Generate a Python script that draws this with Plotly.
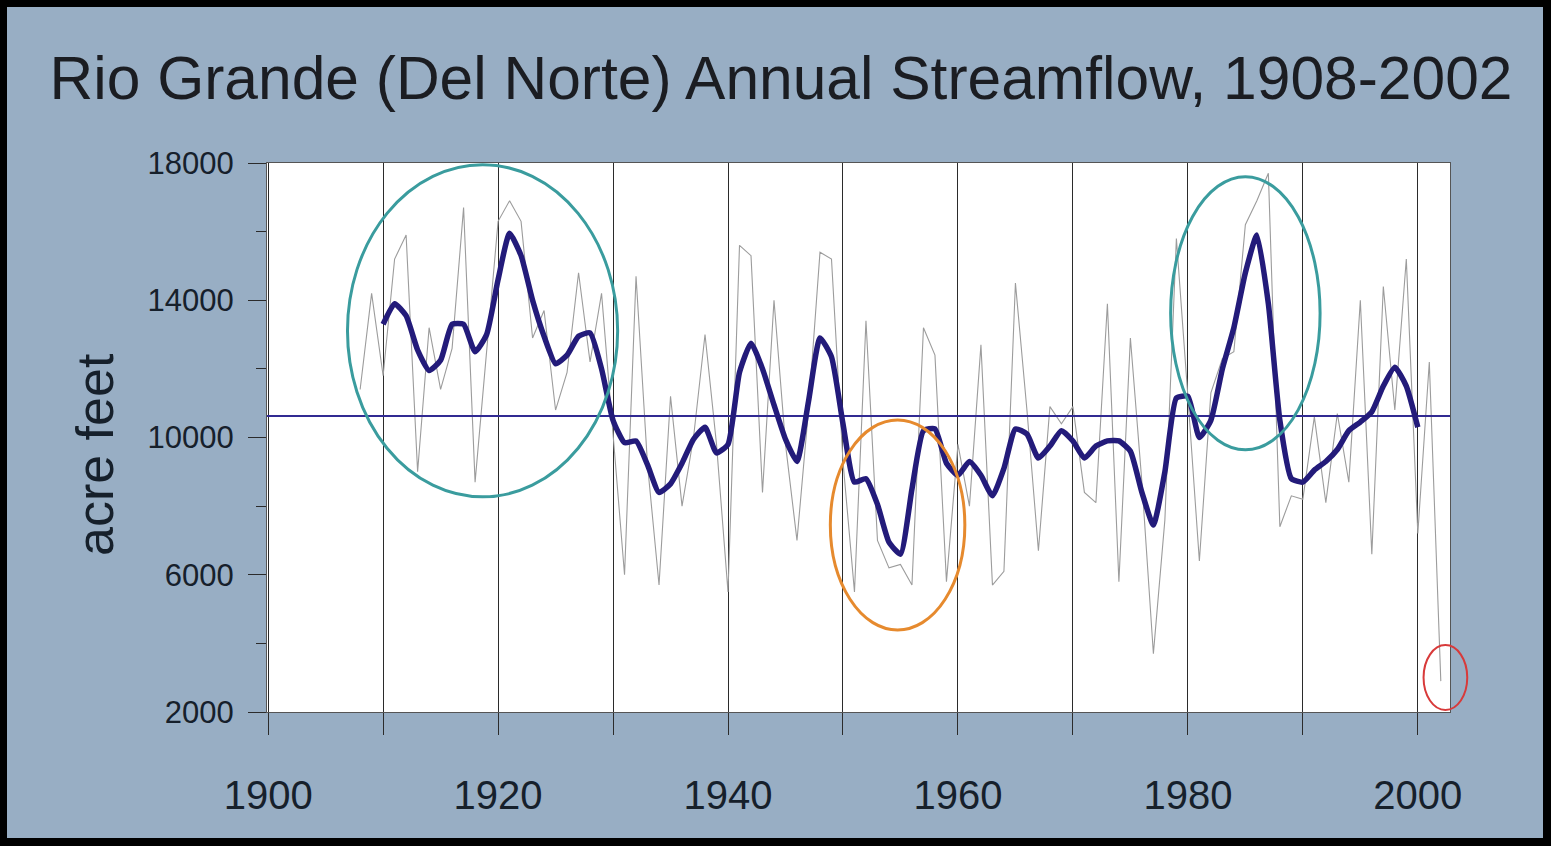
import plotly.graph_objects as go

# ---------------- data ----------------
annual_years = list(range(1908, 2003))
annual_flow = [
    11400, 14200, 11800, 15200, 15900, 9000, 13200, 11400, 12600, 16700,   # 1908-1917
    8700, 12500, 16300, 16900, 16300, 12900, 13700, 10800, 11900, 14800,   # 1918-1927
    12200, 14200, 10000, 6000, 14700, 9200, 5700, 11200, 8000, 10000,      # 1928-1937
    13000, 9800, 5500, 15600, 15300, 8400, 14000, 9800, 7000, 10800,       # 1938-1947
    15400, 15200, 9300, 5500, 13400, 7000, 6200, 6300, 5700, 13200,        # 1948-1957
    12400, 5800, 9800, 8000, 12700, 5700, 6100, 14500, 10800, 6700,        # 1958-1967
    10900, 10400, 10900, 8400, 8100, 13900, 5800, 12900, 8700, 3700,       # 1968-1977
    7600, 15800, 11200, 6400, 11300, 12300, 12500, 16200, 16900, 17700,    # 1978-1987
    7400, 8300, 8200, 10600, 8100, 10700, 8700, 14000, 6600, 14400,        # 1988-1997
    10800, 15200, 7200, 12200, 2900,                                       # 1998-2002
]

smooth_years = list(range(1910, 2001))
smooth_flow = [
    13300, 13900, 13550, 12550, 11950, 12250, 13300, 13300, 12500, 13000,  # 1910-1919
    14600, 15950, 15300, 14000, 12950, 12150, 12400, 12950, 13050, 12000,  # 1920-1929
    10500, 9850, 9900, 9200, 8400, 8650, 9250, 9950, 10300, 9550,          # 1930-1939
    9800, 11900, 12750, 12000, 10950, 9950, 9300, 11050, 12900, 12350,     # 1940-1949
    10400, 8700, 8800, 8050, 6950, 6600, 8500, 10200, 10250, 9250,         # 1950-1959
    8900, 9300, 8900, 8300, 9100, 10250, 10100, 9400, 9750, 10200,         # 1960-1969
    9900, 9400, 9750, 9900, 9900, 9600, 8400, 7450, 9000, 11150,           # 1970-1979
    11200, 10000, 10500, 12000, 13200, 14800, 15900, 13900, 10500, 8800,   # 1980-1989
    8700, 9050, 9300, 9650, 10200, 10450, 10750, 11500, 12050, 11500,      # 1990-1999
    10300,                                                                 # 2000
]

mean_flow = 10630

x_tick_values = list(range(1900, 2001, 10))
x_tick_labels = ["1900", "", "1920", "", "1940", "", "1960", "", "1980", "", "2000"]
y_tick_values = [2000, 6000, 10000, 14000, 18000]
y_tick_labels = ["2000", "6000", "10000", "14000", "18000"]

title_text = "Rio Grande (Del Norte) Annual Streamflow, 1908-2002"
y_title = "acre feet"

# ---------------- layout geometry ----------------
W, H = 1551, 846
ML, MR, MT, MB = 267, 101, 163, 134
X_RANGE = [1899.9, 2002.8]
Y_RANGE = [2000, 18000]
PW, PH = W - ML - MR, H - MT - MB


def px_x(px):
    return (px - ML) / PW


def px_y(py):
    return (H - MB - py) / PH


def yr_to_paper(yr):
    return (yr - X_RANGE[0]) / (X_RANGE[1] - X_RANGE[0])


def val_to_paper(v):
    return (v - Y_RANGE[0]) / (Y_RANGE[1] - Y_RANGE[0])


BG = "#98aec4"
REG = "Liberation Sans, Arial, sans-serif"
TXT = "#16202b"

fig = go.Figure()

fig.add_trace(go.Scatter(
    x=annual_years, y=annual_flow, mode="lines",
    line=dict(color="#9c9c9c", width=1.1), hoverinfo="skip", showlegend=False,
))
fig.add_trace(go.Scatter(
    x=X_RANGE, y=[mean_flow, mean_flow], mode="lines",
    line=dict(color="#312a92", width=2), hoverinfo="skip", showlegend=False,
))
fig.add_trace(go.Scatter(
    x=smooth_years, y=smooth_flow, mode="lines",
    line=dict(color="#231b7a", width=5.5, shape="spline", smoothing=0.5),
    hoverinfo="skip", showlegend=False,
))

shapes = []
# highlight ellipses
shapes.append(dict(type="circle", xref="x", yref="y", x0=1906.9, x1=1930.4, y0=8270, y1=17950,
                   line=dict(color="#3a9c9e", width=3)))
shapes.append(dict(type="circle", xref="x", yref="y", x0=1978.5, x1=1991.5, y0=9640, y1=17600,
                   line=dict(color="#3a9c9e", width=3)))
shapes.append(dict(type="circle", xref="x", yref="y", x0=1948.9, x1=1960.6, y0=4390, y1=10510,
                   line=dict(color="#e68a2e", width=3)))
shapes.append(dict(type="circle", xref="paper", yref="paper",
                   x0=yr_to_paper(2000.5), x1=yr_to_paper(2004.3),
                   y0=val_to_paper(2060), y1=val_to_paper(3950),
                   line=dict(color="#d83a3a", width=2)))
# black frame of the slide
for (a, b, c, d) in [(0, 0, 7, H), (W - 8, 0, W, H), (0, 0, W, 7), (0, H - 8, W, H)]:
    shapes.append(dict(type="rect", xref="paper", yref="paper",
                       x0=px_x(a), x1=px_x(c), y0=px_y(d), y1=px_y(b),
                       fillcolor="black", line=dict(width=0), layer="above"))

annotations = [
    dict(text=y_title, textangle=-90, xref="paper", yref="paper",
         x=px_x(95), y=px_y(454), xanchor="center", yanchor="middle", showarrow=False,
         font=dict(family=REG, size=52, color=TXT)),
]

fig.update_layout(
    width=W, height=H,
    margin=dict(l=ML, r=MR, t=MT, b=MB),
    paper_bgcolor=BG, plot_bgcolor="white",
    showlegend=False,
    shapes=shapes,
    annotations=annotations,
    title=dict(text=title_text, font=dict(family=REG, size=60.5, color="#1b1d22"),
               x=781 / W, xanchor="center", xref="container",
               y=1 - 78 / H, yanchor="middle", yref="container"),
    xaxis=dict(
        range=X_RANGE, tickmode="array", tickvals=x_tick_values, ticktext=x_tick_labels,
        showgrid=True, gridcolor="#2b2b2b", gridwidth=1,
        ticks="outside", ticklen=22, tickcolor="#2b2b2b", tickwidth=1,
        ticklabelstandoff=26,
        tickfont=dict(family=REG, size=40, color=TXT),
        showline=True, linecolor="#555555", linewidth=1, mirror=True,
        zeroline=False,
    ),
    yaxis=dict(
        range=Y_RANGE, tickmode="array", tickvals=y_tick_values, ticktext=y_tick_labels,
        showgrid=False, zeroline=False,
        ticks="outside", ticklen=18, tickcolor="#2b2b2b", tickwidth=1,
        ticklabelstandoff=8,
        minor=dict(dtick=2000, tick0=2000, ticks="outside", ticklen=10, tickcolor="#2b2b2b",
                   showgrid=False),
        tickfont=dict(family=REG, size=31, color=TXT),
        showline=True, linecolor="#555555", linewidth=1, mirror=True,
    ),
)

fig.write_html(
    "out.html",
    config={"displayModeBar": False},
    post_script="document.body.style.margin='0';document.body.style.background='#000';"
                "document.body.style.overflow='hidden';",
)
